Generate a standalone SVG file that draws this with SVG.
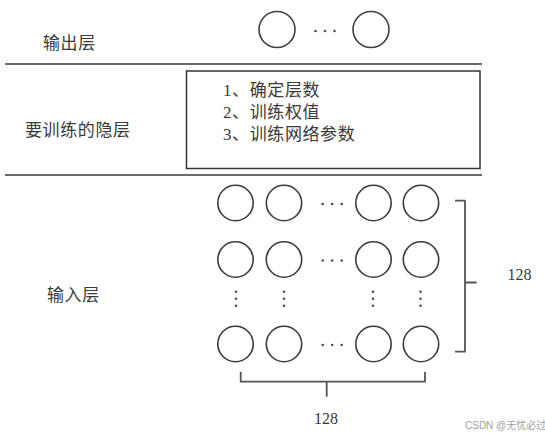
<svg xmlns="http://www.w3.org/2000/svg" width="545" height="436" viewBox="0 0 545 436">
<style>
.bg{fill:#ffffff}
.lbl{font-family:"Liberation Serif","Noto Sans CJK SC",serif;font-size:17px;fill:#3a3a3a;letter-spacing:0.6px}
.num{font-family:"Liberation Serif",serif;font-size:16px;fill:#3a3a3a}
.n{fill:#ffffff;stroke:#3c3c3c;stroke-width:1.6}
.sep{stroke:#6a6a6a;stroke-width:2;fill:none}
.box{fill:#ffffff;stroke:#333333;stroke-width:1.5}
.dot{fill:#4a4f5a}
.br{fill:none;stroke:#555555;stroke-width:1.8;stroke-linejoin:round}
.wm{font-family:"Liberation Sans","Noto Sans CJK SC",sans-serif;font-size:10px;fill:#a0a0a0}
</style>
<defs>
<g id="hd"><circle cx="0" cy="0" r="1.3" class="dot"/><circle cx="9.5" cy="0" r="1.3" class="dot"/><circle cx="19" cy="0" r="1.3" class="dot"/></g>
<g id="vd"><circle cx="0" cy="0" r="1.3" class="dot"/><circle cx="0" cy="7" r="1.3" class="dot"/><circle cx="0" cy="14" r="1.3" class="dot"/></g>
</defs>
<rect class="bg" x="0" y="0" width="545" height="436"/>

<g id="separators">
<line class="sep" x1="5" y1="64" x2="482" y2="64"/>
<line class="sep" x1="5" y1="175" x2="482" y2="175"/>
</g>

<g id="output-layer">
<text class="lbl" x="43" y="49">输出层</text>
<circle class="n" cx="277" cy="29.5" r="18"/>
<use href="#hd" x="315.5" y="31"/>
<circle class="n" cx="371" cy="29.5" r="18"/>
</g>

<g id="hidden-layer">
<text class="lbl" x="25" y="136">要训练的隐层</text>
<rect class="box" x="186.5" y="71" width="293.5" height="97.5"/>
<text class="lbl" x="223" y="96">1、确定层数</text>
<text class="lbl" x="223" y="118">2、训练权值</text>
<text class="lbl" x="223" y="140">3、训练网络参数</text>
</g>

<g id="input-layer">
<text class="lbl" x="47" y="301">输入层</text>
<circle class="n" cx="235.5" cy="203" r="17.7"/>
<circle class="n" cx="284" cy="203" r="17.7"/>
<use href="#hd" x="322.7" y="204"/>
<circle class="n" cx="373.5" cy="203" r="17.7"/>
<circle class="n" cx="421" cy="203" r="17.7"/>

<circle class="n" cx="235.5" cy="259.5" r="17.7"/>
<circle class="n" cx="284" cy="259.5" r="17.7"/>
<use href="#hd" x="322.7" y="260.5"/>
<circle class="n" cx="373.5" cy="259.5" r="17.7"/>
<circle class="n" cx="421" cy="259.5" r="17.7"/>

<use href="#vd" x="236" y="291.7"/>
<use href="#vd" x="284" y="291.7"/>
<use href="#vd" x="373" y="291.7"/>
<use href="#vd" x="420.5" y="291.7"/>

<circle class="n" cx="235.5" cy="344" r="17.7"/>
<circle class="n" cx="284" cy="344" r="17.7"/>
<use href="#hd" x="322.7" y="345"/>
<circle class="n" cx="373.5" cy="344" r="17.7"/>
<circle class="n" cx="421" cy="344" r="17.7"/>
</g>

<g id="connectors">
<path class="br" d="M455,200.7 H465 V351.7 H455 M465,282.5 H476.7"/>
<path class="br" d="M240.7,371.7 V381.7 H425 V371.7 M326.7,381.7 V396.7"/>
</g>

<g id="labels">
<text class="num" x="519.5" y="280" text-anchor="middle">128</text>
<text class="num" x="326" y="424" text-anchor="middle">128</text>
<text class="wm" x="465" y="429">CSDN @无忧必过</text>
</g>
</svg>
